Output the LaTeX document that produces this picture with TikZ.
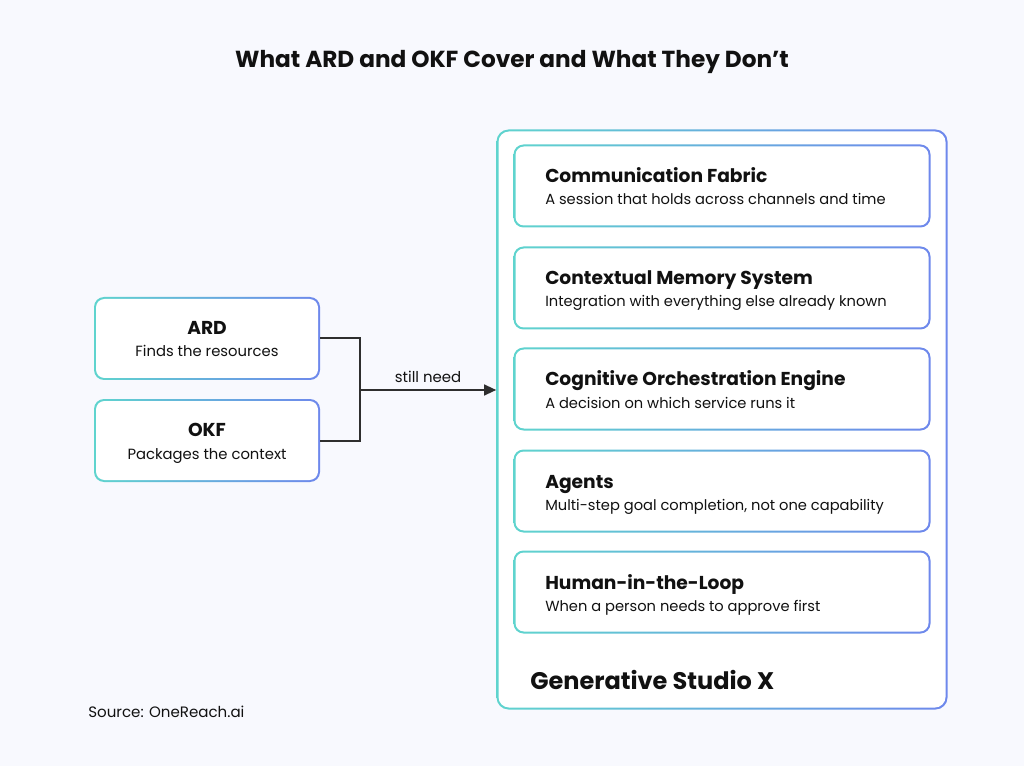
\documentclass[tikz,border=0pt]{standalone}
\usepackage{fontspec}
\setmainfont{Poppins}
\usetikzlibrary{arrows.meta}
\definecolor{bgc}{HTML}{F8F9FE}
\definecolor{tealc}{HTML}{5FD4CE}
\definecolor{bluec}{HTML}{6E88EC}
\definecolor{ink}{HTML}{111111}
\definecolor{linec}{HTML}{2E2E2E}
\def\pxu{0.75pt}
\tikzset{
  ttl/.style={font=\fontsize{14}{16}\selectfont\bfseries, text=ink, inner sep=0pt, anchor=base west},
  sub/.style={font=\fontsize{11}{13}\selectfont, text=ink, inner sep=0pt, anchor=base west},
  ctl/.style={font=\fontsize{14}{16}\selectfont\bfseries, text=ink, inner sep=0pt, anchor=base},
  csub/.style={font=\fontsize{11.1}{13}\selectfont, text=ink, inner sep=0pt, anchor=base},
  conn/.style={draw=linec, line width=1.5pt},
}
\begin{document}
\begin{tikzpicture}[x=0.75pt,y=-0.75pt]
\fill[bgc] (0,0) rectangle (1024,766);
\useasboundingbox (0,0) rectangle (1024,766);

\node[font=\fontsize{17.4}{20}\selectfont\bfseries, text=ink, inner sep=0pt] (title) at (512,62) {What ARD and OKF Cover and What They Don{\char"27}t};

% left boxes
\foreach \nm/\cy in {ard/338.5, okf/440.5}{
  \node[draw=none, rounded corners=10*\pxu, left color=tealc, right color=bluec,
        minimum width=226*\pxu, minimum height=83*\pxu, inner sep=0pt] (\nm) at (207,\cy) {};
  \node[fill=white, rounded corners=8.5*\pxu, minimum width=222*\pxu, minimum height=79*\pxu, inner sep=0pt] at (\nm.center) {};
}
\node[ctl] (ardt) at (207,335) {ARD};
\node[csub] (ards) at (207,357) {Finds the resources};
\node[ctl] (okft) at (207,436) {OKF};
\node[csub] (okfs) at (207,459) {Packages the context};

% outer box
\node[draw=none, rounded corners=12*\pxu, left color=tealc, right color=bluec,
      minimum width=451*\pxu, minimum height=580*\pxu, inner sep=0pt] (gsx) at (722,419.5) {};
\node[fill=white, rounded corners=10.5*\pxu, minimum width=447*\pxu, minimum height=576*\pxu, inner sep=0pt] at (gsx.center) {};

% inner boxes
\foreach \nm/\cy/\t/\s in {
  cf/186/Communication Fabric/A session that holds across channels and time,
  cm/288/Contextual Memory System/Integration with everything else already known,
  co/389/Cognitive Orchestration Engine/A decision on which service runs it,
  ag/491/Agents/{Multi-step goal completion, not one capability},
  hl/592/Human-in-the-Loop/When a person needs to approve first}{
  \node[draw=none, rounded corners=10*\pxu, left color=tealc, right color=bluec,
        minimum width=417*\pxu, minimum height=83*\pxu, inner sep=0pt] (\nm) at (722,\cy) {};
  \node[fill=white, rounded corners=8.5*\pxu, minimum width=413*\pxu, minimum height=79*\pxu, inner sep=0pt] at (\nm.center) {};
  \node[ttl] (\nm t) at ([xshift=-177*\pxu, yshift=3*\pxu]\nm.center) {\t};
  \node[sub] (\nm s) at ([xshift=-177*\pxu, yshift=-19*\pxu]\nm.center) {\s};
}

\node[font=\fontsize{18}{21}\selectfont\bfseries, text=ink, inner sep=0pt, anchor=base west] (gsxl) at (530,689) {Generative Studio X};

% connector
\coordinate (j) at (360,390);
\draw[conn] (ard.east) -| (j);
\draw[conn] (okf.east) -| (j);
\draw[conn, -{Triangle[length=9pt,width=8pt]}] (j) -- (j -| gsx.west)
  node[midway, above=5pt, font=\fontsize{11.2}{13}\selectfont, text=ink, inner sep=0pt] (sn) {still need};

\node[font=\fontsize{11.3}{13}\selectfont, text=ink, inner sep=0pt, anchor=base west] (src) at (88,717) {Source: OneReach.ai};
\end{tikzpicture}
\end{document}
